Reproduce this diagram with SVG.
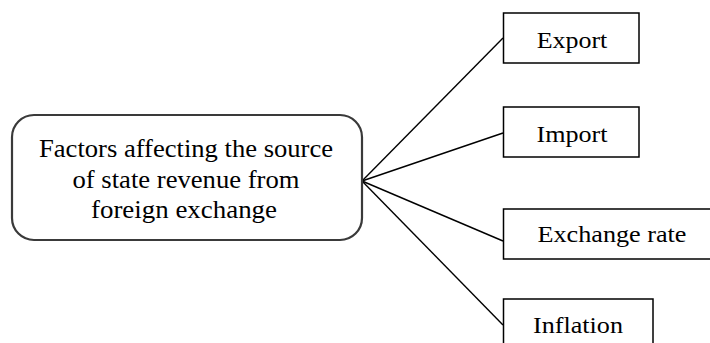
<svg xmlns="http://www.w3.org/2000/svg" width="710" height="343" viewBox="0 0 710 343">
<style>
text{font-family:"Liberation Serif","Times New Roman",serif;font-size:24px;fill:#000;text-anchor:middle}
.big{font-size:25px}
.box{fill:#fff;stroke:#000;stroke-width:1.5}
.main{fill:#fff;stroke:#3a3a3a;stroke-width:2.2}
.conn line{stroke:#000;stroke-width:1.4}
</style>
<rect width="710" height="343" fill="#fff"/>
<g class="conn" id="connectors">
<line x1="362" y1="181" x2="503" y2="38"/>
<line x1="362" y1="181" x2="503" y2="133"/>
<line x1="362" y1="181" x2="503" y2="241"/>
<line x1="362" y1="181" x2="503" y2="325"/>
</g>
<g id="factors">
<rect class="main" x="12" y="115" width="350" height="125" rx="22"/>
<text class="big" x="186" y="157" textLength="294" lengthAdjust="spacingAndGlyphs">Factors affecting the source</text>
<text class="big" x="186" y="187.5" textLength="227" lengthAdjust="spacingAndGlyphs">of state revenue from</text>
<text class="big" x="184" y="218" textLength="186" lengthAdjust="spacingAndGlyphs">foreign exchange</text>
</g>
<g id="export">
<rect class="box" x="503.5" y="13" width="135.5" height="50"/>
<text x="572" y="48" textLength="70.6" lengthAdjust="spacingAndGlyphs">Export</text>
</g>
<g id="import">
<rect class="box" x="503.5" y="107" width="135.5" height="50"/>
<text x="572" y="141.5" textLength="71" lengthAdjust="spacingAndGlyphs">Import</text>
</g>
<g id="exchange-rate">
<rect class="box" x="503.5" y="209" width="220" height="50"/>
<text x="612" y="241.5" textLength="149" lengthAdjust="spacingAndGlyphs">Exchange rate</text>
</g>
<g id="inflation">
<rect class="box" x="503.5" y="299" width="149.5" height="60"/>
<text x="578" y="333" textLength="90" lengthAdjust="spacingAndGlyphs">Inflation</text>
</g>
</svg>
